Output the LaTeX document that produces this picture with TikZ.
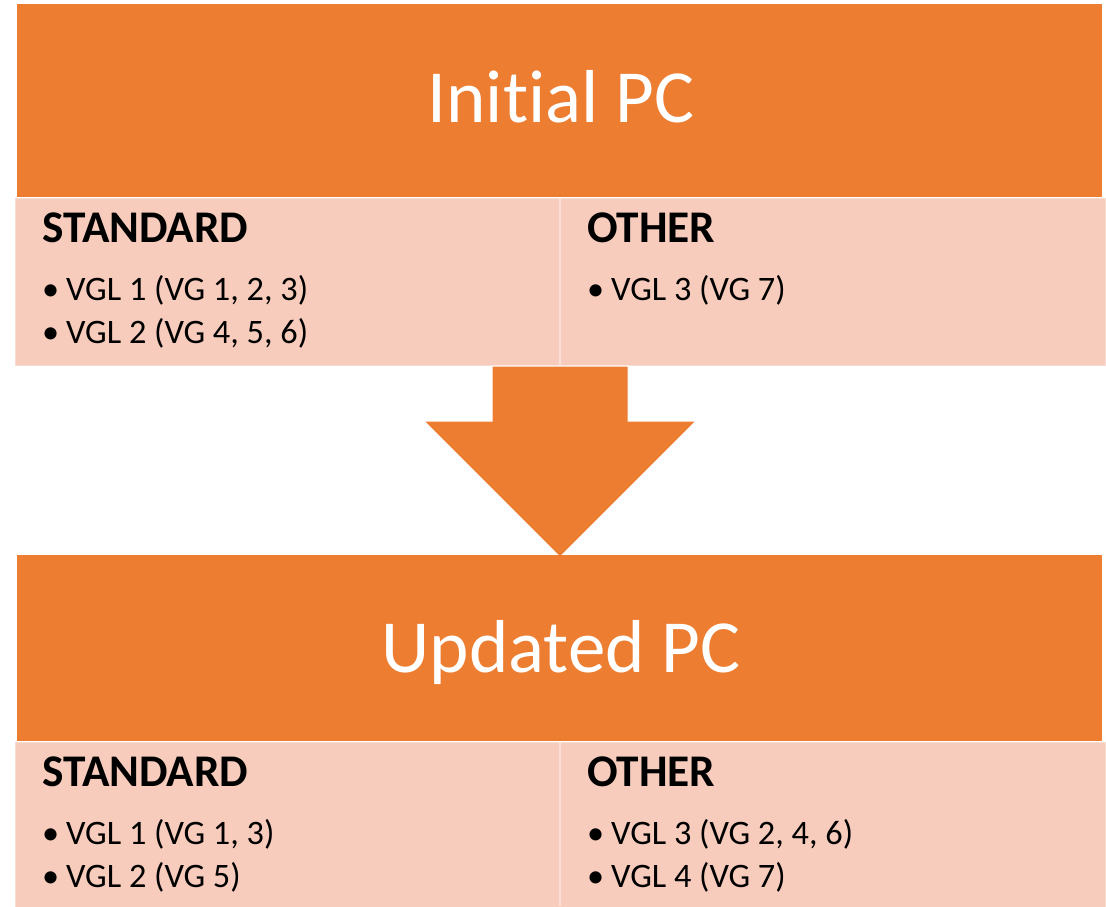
\documentclass[tikz,border=0pt]{standalone}
\usepackage{fontspec}
\setmainfont[Ligatures={NoCommon,NoRare}]{Carlito}
\definecolor{orng}{RGB}{237,125,49}
\definecolor{peach}{RGB}{247,204,188}
\tikzset{
  titlebox/.style={fill=orng, draw=none, anchor=north west, inner sep=0, minimum width=1085pt, minimum height=193pt},
  listbox/.style={fill=peach, draw=white, draw opacity=0.35, line width=1.5pt, anchor=north west, inner sep=0, minimum width=1091pt, minimum height=168pt},
  titletext/.style={text=white, font=\fontsize{75}{80}\selectfont, anchor=base, inner sep=0},
  headtext/.style={text=black, font=\fontsize{45.3}{50}\selectfont\bfseries, anchor=base west, inner sep=0},
  itemtext/.style={text=black, font=\fontsize{34.3}{38}\selectfont, anchor=base west, inner sep=0},
  divider/.style={draw=white, draw opacity=0.4, line width=1.5pt},
  bigarrow/.style={fill=orng, draw=white, line width=1pt, line join=miter}
}
\newcommand{\bul}{\makebox[24pt][l]{•}}
\begin{document}
\begin{tikzpicture}[x=1pt,y=-1pt]
\useasboundingbox (0,0) rectangle (1106,906);
% top group
\node[titlebox] (top) at (17,4) {};
\node[listbox] (toplist) at (14,197) {};
\coordinate (tdivA) at (560,197);
\coordinate (tdivB) at (560,365);
\draw[divider] (tdivA) -- (tdivB);
\node[titletext] (toptitle) at (561,122) {Initial PC};
\node[headtext] (tsh) at (42,242) {STANDARD};
\node[headtext] (toh) at (587,242) {OTHER};
\node[itemtext] (ts1) at (42,300) {\bul VGL 1 (VG 1, 2, 3)};
\node[itemtext] (ts2) at (42,343) {\bul VGL 2 (VG 4, 5, 6)};
\node[itemtext] (to1) at (587,300) {\bul VGL 3 (VG 7)};
% arrow
\draw[bigarrow] (492,366) -- (628,366) -- (628,421) -- (696,421) -- (560,557) -- (424,421) -- (492,421) -- cycle;
% bottom group
\node[titlebox, minimum height=186pt] (bot) at (17,555) {};
\node[listbox] (botlist) at (14,741) {};
\coordinate (bdivA) at (560,741);
\coordinate (bdivB) at (560,906);
\draw[divider] (bdivA) -- (bdivB);
\node[titletext] (bottitle) at (561,672) {Updated PC};
\node[headtext] (bsh) at (42,786) {STANDARD};
\node[headtext] (boh) at (587,786) {OTHER};
\node[itemtext] (bs1) at (42,844) {\bul VGL 1 (VG 1, 3)};
\node[itemtext] (bs2) at (42,887) {\bul VGL 2 (VG 5)};
\node[itemtext] (bo1) at (587,844) {\bul VGL 3 (VG 2, 4, 6)};
\node[itemtext] (bo2) at (587,887) {\bul VGL 4 (VG 7)};
\end{tikzpicture}
\end{document}
